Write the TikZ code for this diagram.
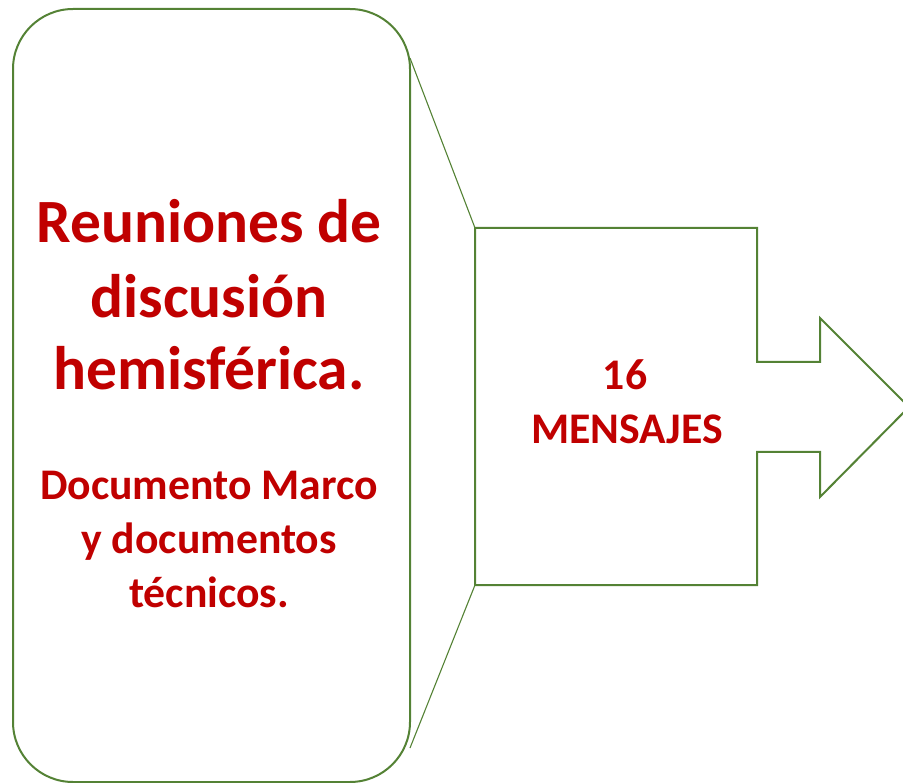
\documentclass[tikz,border=0pt]{standalone}
\usepackage{fontspec}
\setmainfont{Carlito}
\usetikzlibrary{positioning}
\definecolor{verde}{HTML}{548235}
\definecolor{rojo}{HTML}{C00000}
\tikzset{
  grande/.style={rojo,font=\fontsize{61.5}{73}\selectfont\bfseries,anchor=base,inner sep=0pt},
  chico/.style={rojo,font=\fontsize{43.7}{53}\selectfont\bfseries,anchor=base,inner sep=0pt},
  borde/.style={verde,line width=2pt},
  guia/.style={verde,line width=1.1pt}
}

\begin{document}
\begin{tikzpicture}[x=1pt,y=-1pt]
\useasboundingbox (0,0) rectangle (903,783);
\clip (0,0) rectangle (903,783);

\node (caja) [borde,draw,rounded corners=60pt,minimum width=397pt,minimum height=773pt,inner sep=0pt] at (211.5,395.5) {};

\node (t1) [grande] at (209,243) {Reuniones de};
\node (t2) [grande] at (209,318) {discusión};
\node (t3) [grande] at (209,390) {hemisférica.};

\node (d1) [chico] at (209,500) {Documento Marco};
\node (d2) [chico] at (209,554) {y documentos};
\node (d3) [chico] at (209,607) {técnicos.};

\coordinate (a1) at (475,228);
\coordinate (a2) at (757,228);
\coordinate (a3) at (757,362);
\coordinate (a4) at (820,362);
\coordinate (a5) at (820,318);
\coordinate (punta) at (909,407);
\coordinate (a6) at (820,497);
\coordinate (a7) at (820,452);
\coordinate (a8) at (757,452);
\coordinate (a9) at (757,585);
\coordinate (a10) at (475,585);
\draw [borde] (a1) -- (a2) -- (a3) -- (a4) -- (a5) -- (punta) -- (a6) -- (a7) -- (a8) -- (a9) -- (a10) -- cycle;

\node (m1) [chico] at (625,390) {16};
\node (m2) [chico] at (627,444) {MENSAJES};

\coordinate (c1) at (410,58);
\coordinate (c2) at (410,748);
\draw [guia] (c1) -- (a1);
\draw [guia] (c2) -- (a10);
\end{tikzpicture}
\end{document}
